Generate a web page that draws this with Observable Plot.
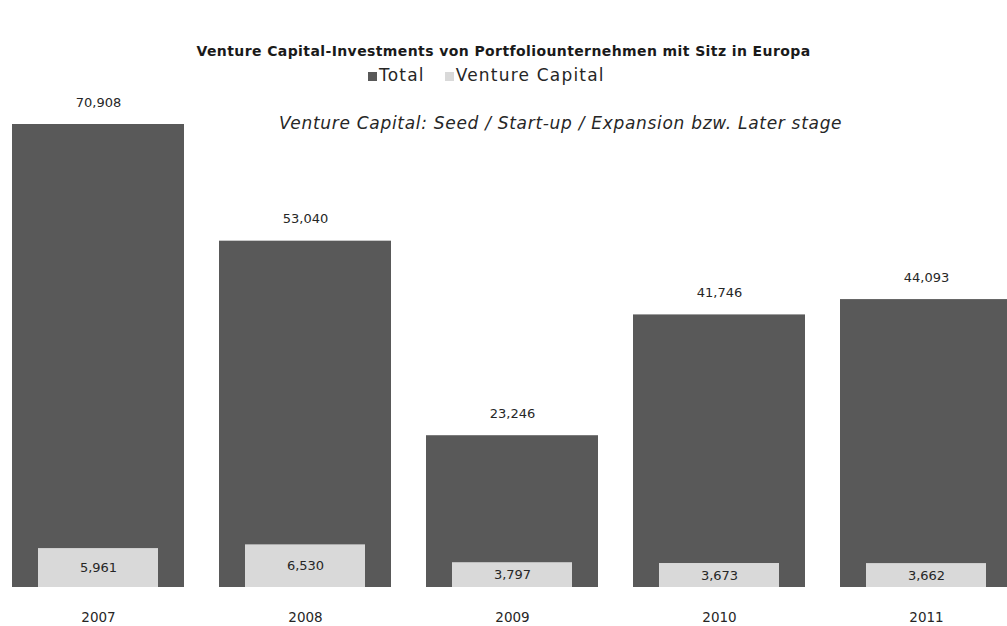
<!DOCTYPE html>
<html>
<head>
<meta charset="utf-8">
<script src="https://cdn.jsdelivr.net/npm/d3@7"></script>
<script src="https://cdn.jsdelivr.net/npm/@observablehq/plot@0.6"></script>
<style>
  html, body { margin: 0; padding: 0; background: #fff; }
  body { width: 1007px; height: 626px; position: relative; overflow: hidden; font-family: "DejaVu Sans", sans-serif; color: #262626; }
  #title { position: absolute; top: 43px; left: 0; width: 1007px; text-align: center; font-weight: bold; font-size: 14px; letter-spacing: 0.4px; color: #1a1a1a; white-space: nowrap; }
  #legend { position: absolute; top: 65px; left: 368px; font-size: 17px; letter-spacing: 1.2px; color: #262626; white-space: nowrap; }
  #legend .sw { display: inline-block; width: 9px; height: 9px; margin-right: 2px; }
  #legend .item2 { margin-left: 20px; }
  #note { position: absolute; top: 113px; left: 279px; font-style: italic; font-size: 17px; letter-spacing: 0.7px; color: #262626; white-space: nowrap; }
  #chart { position: absolute; top: 0; left: 0; }
</style>
</head>
<body>
<div id="chart"></div>
<div id="title">Venture Capital-Investments von Portfoliounternehmen mit Sitz in Europa</div>
<div id="legend"><span class="item"><span class="sw" style="background:#595959"></span>Total</span><span class="item2"><span class="sw" style="background:#d9d9d9"></span>Venture Capital</span></div>
<div id="note">Venture Capital: Seed / Start-up / Expansion bzw. Later stage</div>
<script>
const years = ["2007", "2008", "2009", "2010", "2011"];
const total = [70908, 53040, 23246, 41746, 44093];
const ventureCapital = [5961, 6530, 3797, 3673, 3662];

const data = years.map((year, i) => ({year, total: total[i], vc: ventureCapital[i]}));
const fmt = d3.format(",");

const base = 587;
const pxPerUnit = 463 / 70908;

const chart = Plot.plot({
  width: 1007,
  height: 626,
  marginTop: 0,
  marginBottom: 626 - base,
  marginLeft: 0,
  marginRight: 0,
  style: {fontFamily: "'DejaVu Sans', sans-serif", color: "#262626", background: "transparent"},
  x: {domain: years, range: [-7, 1032], paddingInner: 0.168, paddingOuter: 0.084, label: null},
  y: {domain: [0, 80000], range: [base, base - 80000 * pxPerUnit], axis: null},
  marks: [
    Plot.barY(data, {x: "year", y: "total", fill: "#595959"}),
    Plot.barY(data, {x: "year", y: "vc", fill: "#d9d9d9", insetLeft: 26, insetRight: 26}),
    Plot.text(data, {x: "year", y: "total", text: d => fmt(d.total), dy: -22, fontSize: 13, fill: "#262626"}),
    Plot.text(data, {x: "year", y: d => d.vc / 2, text: d => fmt(d.vc), fontSize: 13, fill: "#262626"}),
    Plot.axisX({tickSize: 0, tickPadding: 25, fontSize: 13.5, fill: "#262626", label: null})
  ]
});
document.getElementById("chart").appendChild(chart);
</script>
</body>
</html>
